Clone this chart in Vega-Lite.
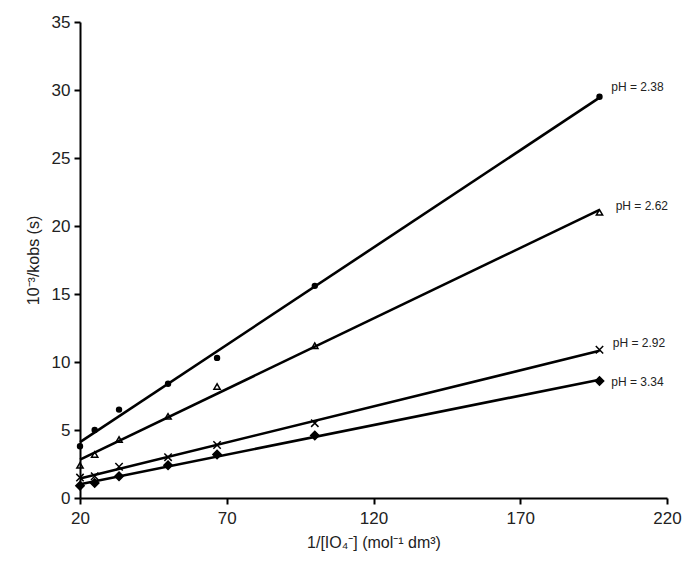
{
  "$schema": "https://vega.github.io/schema/vega-lite/v6.json",
  "width": 587,
  "height": 476,
  "autosize": {"type": "none"},
  "padding": {"left": 80, "top": 22, "right": 18, "bottom": 76},
  "background": "white",
  "config": {
    "view": {"stroke": null},
    "font": "Liberation Sans",
    "axis": {
      "grid": false,
      "domainColor": "black",
      "domainWidth": 2,
      "tickColor": "black",
      "tickWidth": 2,
      "tickSize": 6,
      "labelFlush": false,
      "labelOverlap": false,
      "labelFont": "Liberation Sans",
      "labelFontSize": 17,
      "labelColor": "#222",
      "titleFont": "Liberation Sans",
      "titleFontSize": 16,
      "titleFontWeight": "normal",
      "titleColor": "#222"
    }
  },
  "datasets": {
    "pts": [
      {"x": 20, "y": 3.8, "series": "pH = 2.38"},
      {"x": 25, "y": 5.0, "series": "pH = 2.38"},
      {"x": 33.3, "y": 6.5, "series": "pH = 2.38"},
      {"x": 50, "y": 8.4, "series": "pH = 2.38"},
      {"x": 66.7, "y": 10.3, "series": "pH = 2.38"},
      {"x": 100, "y": 15.6, "series": "pH = 2.38"},
      {"x": 197, "y": 29.5, "series": "pH = 2.38"},
      {"x": 20, "y": 2.4, "series": "pH = 2.62"},
      {"x": 25, "y": 3.2, "series": "pH = 2.62"},
      {"x": 33.3, "y": 4.3, "series": "pH = 2.62"},
      {"x": 50, "y": 6.0, "series": "pH = 2.62"},
      {"x": 66.7, "y": 8.2, "series": "pH = 2.62"},
      {"x": 100, "y": 11.2, "series": "pH = 2.62"},
      {"x": 197, "y": 21.0, "series": "pH = 2.62"},
      {"x": 20, "y": 1.5, "series": "pH = 2.92"},
      {"x": 25, "y": 1.6, "series": "pH = 2.92"},
      {"x": 33.3, "y": 2.3, "series": "pH = 2.92"},
      {"x": 50, "y": 3.0, "series": "pH = 2.92"},
      {"x": 66.7, "y": 3.9, "series": "pH = 2.92"},
      {"x": 100, "y": 5.5, "series": "pH = 2.92"},
      {"x": 197, "y": 10.9, "series": "pH = 2.92"},
      {"x": 20, "y": 0.9, "series": "pH = 3.34"},
      {"x": 25, "y": 1.1, "series": "pH = 3.34"},
      {"x": 33.3, "y": 1.6, "series": "pH = 3.34"},
      {"x": 50, "y": 2.4, "series": "pH = 3.34"},
      {"x": 66.7, "y": 3.2, "series": "pH = 3.34"},
      {"x": 100, "y": 4.6, "series": "pH = 3.34"},
      {"x": 197, "y": 8.6, "series": "pH = 3.34"}
    ],
    "labels": [
      {"x": 201, "y": 30.2, "series": "pH = 2.38"},
      {"x": 202.5, "y": 21.5, "series": "pH = 2.62"},
      {"x": 201.5, "y": 11.4, "series": "pH = 2.92"},
      {"x": 201, "y": 8.5, "series": "pH = 3.34"}
    ]
  },
  "layer": [
    {
      "data": {"name": "pts"},
      "transform": [{"regression": "y", "on": "x", "groupby": ["series"]}],
      "mark": {"type": "line", "color": "black", "strokeWidth": 2.6},
      "encoding": {
        "x": {"field": "x", "type": "quantitative", "scale": {"domain": [20, 220], "nice": false}, "axis": {"values": [20, 70, 120, 170, 220], "title": "1/[IO₄⁻] (mol⁻¹ dm³)", "labelPadding": 6, "titlePadding": 8}},
        "y": {"field": "y", "type": "quantitative", "scale": {"domain": [0, 35], "nice": false}, "axis": {"values": [0, 5, 10, 15, 20, 25, 30, 35], "title": "10⁻³/kobs (s)", "labelPadding": 4, "titlePadding": 10}},
        "detail": {"field": "series"}
      }
    },
    {
      "data": {"name": "pts"},
      "mark": {"type": "point", "filled": true, "stroke": "black", "strokeWidth": 1.5, "opacity": 1},
      "encoding": {
        "x": {"field": "x", "type": "quantitative"},
        "y": {"field": "y", "type": "quantitative"},
        "shape": {"field": "series", "type": "nominal", "legend": null, "scale": {"domain": ["pH = 2.38", "pH = 2.62", "pH = 2.92", "pH = 3.34"], "range": ["circle", "triangle-up", "M-1,-1L1,1M-1,1L1,-1", "diamond"]}},
        "fill": {"field": "series", "type": "nominal", "legend": null, "scale": {"domain": ["pH = 2.38", "pH = 2.62", "pH = 2.92", "pH = 3.34"], "range": ["black", "transparent", "transparent", "black"]}},
        "size": {"field": "series", "type": "nominal", "legend": null, "scale": {"domain": ["pH = 2.38", "pH = 2.62", "pH = 2.92", "pH = 3.34"], "range": [24, 70, 50, 45]}}
      }
    },
    {
      "data": {"name": "labels"},
      "mark": {"type": "text", "align": "left", "baseline": "middle", "fontSize": 12, "font": "Liberation Sans", "color": "#222"},
      "encoding": {
        "x": {"field": "x", "type": "quantitative"},
        "y": {"field": "y", "type": "quantitative"},
        "text": {"field": "series"}
      }
    }
  ]
}
